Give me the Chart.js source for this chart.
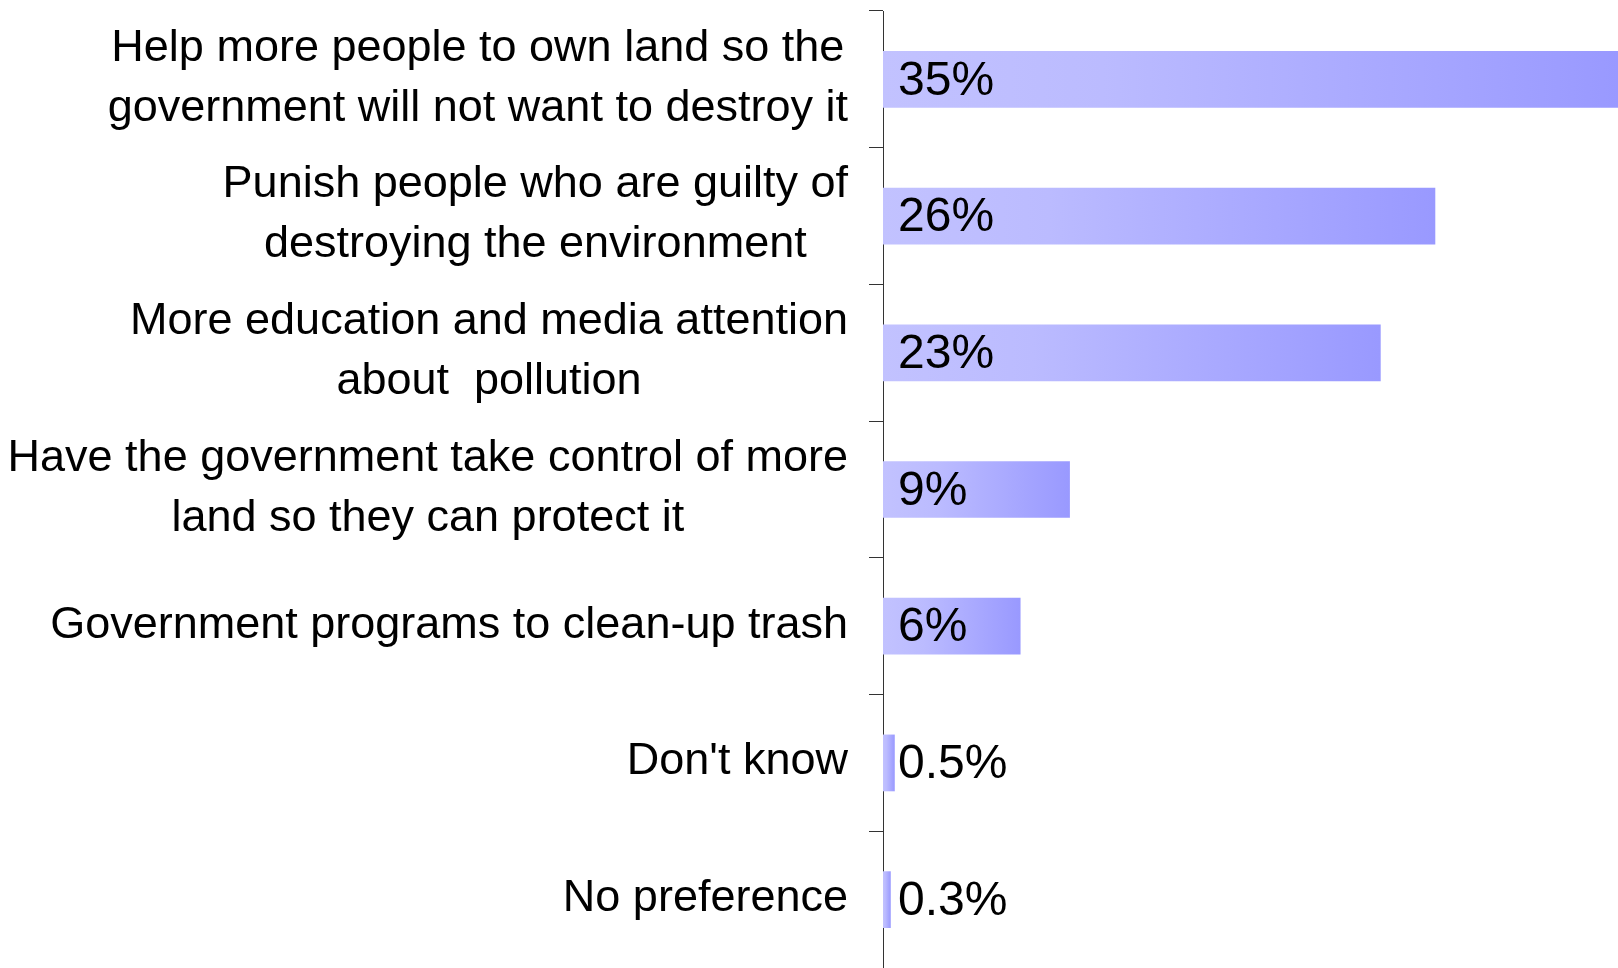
<!DOCTYPE html>
<html>
<head>
<meta charset="utf-8">
<script src="https://cdn.jsdelivr.net/npm/chart.js@4"></script>
<style>
    html, body { margin: 0; padding: 0; background: #fff; }
    #wrap { width: 1618px; height: 968px; }
</style>
</head>
<body>
<div id="wrap"><canvas id="surveyChart"></canvas></div>
<script>
const categories = [
    ['Help more people to own land so the', 'government will not want to destroy it'],
    ['Punish people who are guilty of', 'destroying the environment'],
    ['More education and media attention', 'about  pollution'],
    ['Have the government take control of more', 'land so they can protect it'],
    ['Government programs to clean-up trash'],
    ["Don't know"],
    ['No preference']
];
const shares = [35, 26.3, 23.7, 8.9, 6.55, 0.56, 0.37];
const shareLabels = ['35%', '26%', '23%', '9%', '6%', '0.5%', '0.3%'];

const labelFont = '45px "Liberation Sans", Arial, sans-serif';
const valueFont = '48px "Liberation Sans", Arial, sans-serif';

function barGradient(context) {
    const chart = context.chart;
    if (!chart.chartArea || !chart.scales.x) return '#b0b0ff';
    const x0 = chart.scales.x.getPixelForValue(0);
    const x1 = chart.scales.x.getPixelForValue(context.raw);
    if (!isFinite(x0) || !isFinite(x1) || x1 - x0 < 1) return '#b0b0ff';
    const g = chart.ctx.createLinearGradient(x0, 0, x1, 0);
    g.addColorStop(0, 'rgb(194,194,255)');
    g.addColorStop(0.3, 'rgb(187,187,255)');
    g.addColorStop(1, 'rgb(153,153,255)');
    return g;
}

// category labels: each block centred on itself, blocks right-aligned to the axis
const categoryLabels = {
    id: 'categoryLabels',
    afterDraw(chart) {
        const ctx = chart.ctx;
        const y = chart.scales.y;
        const right = chart.chartArea.left - 35;
        const lineHeight = 60;
        ctx.save();
        ctx.font = labelFont;
        ctx.fillStyle = '#000';
        ctx.textAlign = 'center';
        ctx.textBaseline = 'middle';
        categories.forEach((lines, i) => {
            const w = Math.max(...lines.map(l => ctx.measureText(l).width));
            const cx = right - w / 2;
            const cy = y.getPixelForValue(i) - 1;
            const startY = cy - (lines.length - 1) * lineHeight / 2;
            lines.forEach((line, j) => ctx.fillText(line, cx, startY + j * lineHeight));
        });
        ctx.restore();
    }
};

const valueLabels = {
    id: 'valueLabels',
    afterDatasetsDraw(chart) {
        const ctx = chart.ctx;
        const meta = chart.getDatasetMeta(0);
        const x0 = chart.scales.x.getPixelForValue(0);
        ctx.save();
        ctx.font = valueFont;
        ctx.fillStyle = '#000';
        ctx.textAlign = 'left';
        ctx.textBaseline = 'middle';
        meta.data.forEach((bar, i) => {
            ctx.fillText(shareLabels[i], x0 + 15, bar.y + 2);
        });
        ctx.restore();
    }
};

new Chart(document.getElementById('surveyChart'), {
    type: 'bar',
    data: {
        labels: categories,
        datasets: [{
            data: shares,
            backgroundColor: barGradient,
            borderWidth: 0,
            barPercentage: 0.415,
            categoryPercentage: 1
        }]
    },
    options: {
        indexAxis: 'y',
        responsive: true,
        maintainAspectRatio: false,
        animation: false,
        layout: { padding: { top: 11, bottom: -4, left: 0, right: 0 } },
        plugins: {
            legend: { display: false },
            tooltip: { enabled: false }
        },
        scales: {
            x: {
                display: false,
                min: 0,
                max: 35
            },
            y: {
                afterFit(scale) { scale.width = 883; },
                ticks: { display: false },
                grid: {
                    offset: true,
                    drawOnChartArea: false,
                    drawTicks: true,
                    tickLength: 14,
                    color: '#333',
                    lineWidth: 1
                },
                border: { display: true, color: '#333', width: 1 }
            }
        }
    },
    plugins: [categoryLabels, valueLabels]
});
</script>
</body>
</html>
